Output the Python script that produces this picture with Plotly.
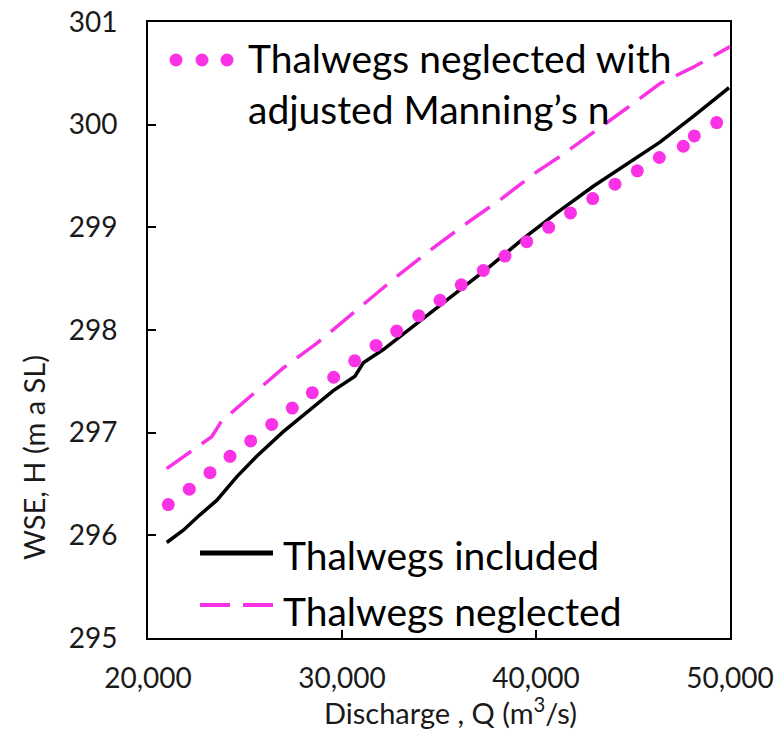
import plotly.graph_objects as go

# ---------------- data ----------------
q_included = [20964, 21820, 22680, 23541, 24572, 25603, 26974, 28351, 29552, 30670,
              31098, 32129, 34191, 35912, 37629, 39345, 41067, 42954, 44675, 46392,
              48108, 49950]
h_included = [295.93, 296.05, 296.20, 296.34, 296.57, 296.77, 297.01, 297.22, 297.41, 297.55,
              297.68, 297.81, 298.11, 298.36, 298.62, 298.89, 299.14, 299.40, 299.62, 299.83,
              300.08, 300.36]

q_neglected = [20964, 22165, 22851, 23284, 23784, 25258, 26974, 28696, 30155, 32820,
               34706, 36428, 38232, 40036, 41237, 42954, 44675, 46392, 48108, 50000]
h_neglected = [296.65, 296.81, 296.91, 296.96, 297.11, 297.35, 297.63, 297.87, 298.10, 298.52,
               298.80, 299.04, 299.28, 299.54, 299.69, 299.92, 300.16, 300.40, 300.56, 300.76]

q_adjusted = [21046, 22129, 23196, 24227, 25294, 26376, 27438, 28469, 29572, 30655,
              31753, 32820, 33954, 35052, 36149, 37284, 38402, 39521, 40655, 41778,
              42923, 44072, 45222, 46356, 47593, 48160, 49314]
h_adjusted = [296.30, 296.45, 296.61, 296.77, 296.92, 297.08, 297.24, 297.39, 297.54, 297.70,
              297.85, 297.99, 298.14, 298.29, 298.44, 298.58, 298.72, 298.86, 299.00, 299.14,
              299.28, 299.42, 299.55, 299.68, 299.79, 299.89, 300.02]

x_ticks = [20000, 30000, 40000, 50000]
x_tick_text = ["20,000", "30,000", "40,000", "50,000"]
y_ticks = [295, 296, 297, 298, 299, 300, 301]

name_included = "Thalwegs included"
name_neglected = "Thalwegs neglected"
name_adjusted = "Thalwegs neglected with<br>adjusted Manning’s n"
x_title = "Discharge , Q (m<sup>3</sup>/s)"
y_title = "WSE, H (m a SL)"

# ---------------- style ----------------
W, H = 778, 730
L, R, T, B = 148, 48, 22, 92
PW, PH = W - L - R, H - T - B
MAGENTA = "#F932E6"
TXT = "#1a1a1a"
FONT = "Lato"
LEG_SIZE = 39
TITLE_SIZE = 29


def px(x):
    return (x - L) / PW


def py(y):
    return (H - B - y) / PH


fig = go.Figure()
fig.add_trace(go.Scatter(x=q_included, y=h_included, mode="lines", name=name_included,
                         line=dict(color="black", width=3.5), showlegend=False))
fig.add_trace(go.Scatter(x=q_neglected, y=h_neglected, mode="lines", name=name_neglected,
                         line=dict(color=MAGENTA, width=3.5, dash="30px,13px"), showlegend=False))
fig.add_trace(go.Scatter(x=q_adjusted, y=h_adjusted, mode="markers", name=name_adjusted,
                         marker=dict(color=MAGENTA, size=13), showlegend=False))

shapes = []
# legend glyphs
for cx in (176, 202, 227):
    shapes.append(dict(type="circle", xref="paper", yref="paper",
                       x0=px(cx - 6.5), x1=px(cx + 6.5), y0=py(60 + 6.5), y1=py(60 - 6.5),
                       fillcolor=MAGENTA, line=dict(width=0)))
shapes.append(dict(type="line", xref="paper", yref="paper", x0=px(200), x1=px(273),
                   y0=py(553), y1=py(553), line=dict(color="black", width=5)))
shapes.append(dict(type="line", xref="paper", yref="paper", x0=px(200), x1=px(273),
                   y0=py(605), y1=py(605),
                   line=dict(color=MAGENTA, width=4, dash="30px,13px")))

annotations = [
    dict(text=name_adjusted, xref="paper", yref="paper", x=px(246), y=py(33),
         xanchor="left", yanchor="top", showarrow=False, align="left",
         font=dict(family=FONT, size=LEG_SIZE, color="black")),
    dict(text=name_included, xref="paper", yref="paper", x=px(281), y=py(555),
         xanchor="left", yanchor="middle", showarrow=False, align="left",
         font=dict(family=FONT, size=LEG_SIZE, color="black")),
    dict(text=name_neglected, xref="paper", yref="paper", x=px(281), y=py(611),
         xanchor="left", yanchor="middle", showarrow=False, align="left",
         font=dict(family=FONT, size=LEG_SIZE, color="black")),
    dict(text=x_title, xref="paper", yref="paper", x=px(450), y=py(711),
         xanchor="center", yanchor="middle", showarrow=False,
         font=dict(family=FONT, size=TITLE_SIZE, color=TXT)),
    dict(text=y_title, xref="paper", yref="paper", x=px(33), y=py(458),
         xanchor="center", yanchor="middle", showarrow=False, textangle=-90,
         font=dict(family=FONT, size=TITLE_SIZE, color=TXT)),
]

fig.update_layout(
    width=W, height=H,
    margin=dict(l=L, r=R, t=T, b=B, autoexpand=False),
    paper_bgcolor="white", plot_bgcolor="white",
    font=dict(family=FONT, color=TXT),
    shapes=shapes, annotations=annotations,
    showlegend=False,
)
fig.update_xaxes(range=[20000, 50000], tickvals=x_ticks, ticktext=x_tick_text,
                 ticks="inside", ticklen=8, tickwidth=1.5, tickcolor="black",
                 showline=True, linecolor="black", linewidth=2, mirror=True,
                 showgrid=False, zeroline=False, ticklabelstandoff=14, automargin=False,
                 tickfont=dict(family=FONT, size=28, color=TXT))
fig.update_yaxes(range=[295, 301], tickvals=y_ticks,
                 ticks="inside", ticklen=8, tickwidth=1.5, tickcolor="black",
                 showline=True, linecolor="black", linewidth=2, mirror=True,
                 showgrid=False, zeroline=False, ticklabelstandoff=23, automargin=False,
                 tickfont=dict(family=FONT, size=28, color=TXT))

fig.write_html("out.html")
